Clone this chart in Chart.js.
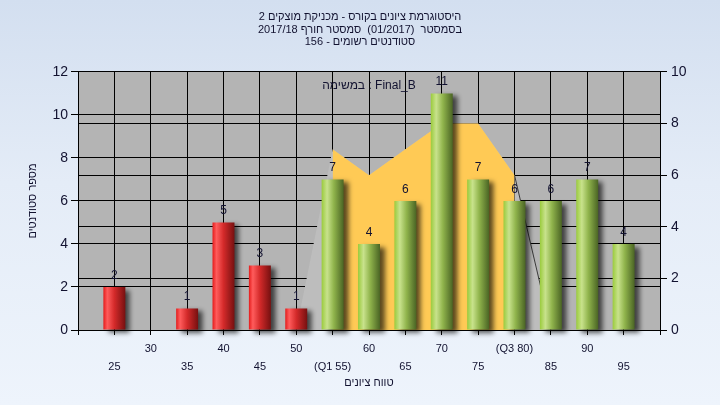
<!DOCTYPE html>
<html lang="he">
<head>
  <meta charset="UTF-8"/>
  <title>היסטוגרמת ציונים</title>
  <style>
    html, body {
      margin: 0;
      padding: 0;
    }
    body {
      width: 720px;
      height: 405px;
      overflow: hidden;
      background: linear-gradient(to bottom, #d3dff0 0%, #e4ecf7 45%, #eef4fc 100%);
    }
    #chart {
      display: block;
    }
  </style>
</head>
<body>

<canvas id="chart" width="720" height="405"></canvas>

<script src="https://cdn.jsdelivr.net/npm/chart.js@4"></script>
<script>
// grade buckets and number of students in each
const grades = [25, 30, 35, 40, 45, 50, 55, 60, 65, 70, 75, 80, 85, 90, 95];
const counts = [2, 0, 1, 5, 3, 1, 7, 4, 6, 11, 7, 6, 6, 7, 4];
const tickLabels = ['25', '30', '35', '40', '45', '50', '(Q1 55)', '60', '65', '70', '75', '(Q3 80)', '85', '90', '95'];
const passGrade = 55;

// distribution outline (right axis)
const outlineGrades = [50, 55, 60, 65, 70, 75, 80, 85];
const outlineValues = [0, 7, 6, 7, 8, 8, 6, 0];
// inter-quartile part (Q1..Q3)
const iqrGrades = [55, 60, 65, 70, 75, 80];
const iqrValues = [7, 6, 7, 8, 8, 6];

const titleLines = [
  'היסטוגרמת ציונים בקורס - מכניקת מוצקים 2',
  'בסמסטר  (01/2017)  סמסטר חורף 2017/18',
  'סטודנטים רשומים - 156'
];
const taskLabel = 'במשימה : Final_B';

const FONT = "'Liberation Sans', Arial, sans-serif";
const INK = '#121230';

function pts(xs, ys) {
  return xs.map((x, i) => ({ x: x, y: ys[i] }));
}

function barFill(ctx) {
  const chart = ctx.chart;
  const xs = chart.scales.x;
  const red = grades[ctx.dataIndex] < passGrade;
  const flat = red ? '#d82020' : '#9cc448';
  if (!xs || ctx.type !== 'data') return flat;
  const px = xs.getPixelForValue(grades[ctx.dataIndex]);
  if (!Number.isFinite(px)) return flat;
  const g = chart.ctx.createLinearGradient(px - 11, 0, px + 11, 0);
  if (red) {
    g.addColorStop(0, '#e41c1c');
    g.addColorStop(0.18, '#ff5c5c');
    g.addColorStop(0.5, '#d42a2a');
    g.addColorStop(1, '#761010');
  } else {
    g.addColorStop(0, '#9acb3c');
    g.addColorStop(0.25, '#c8e28c');
    g.addColorStop(0.55, '#90b44c');
    g.addColorStop(1, '#4a6424');
  }
  return g;
}

const plotBg = {
  id: 'plotBg',
  beforeDraw(chart) {
    const a = chart.chartArea;
    const c = chart.ctx;
    c.save();
    c.fillStyle = '#b4b4b4';
    c.fillRect(a.left, a.top, a.right - a.left, a.bottom - a.top);
    c.restore();
  }
};

// soft drop shadow behind the bars
const barShadow = {
  id: 'barShadow',
  beforeDatasetDraw(chart, args) {
    if (args.meta.type !== 'bar') return;
    const c = chart.ctx;
    c.save();
    c.shadowColor = 'rgba(0,0,0,0.65)';
    c.shadowOffsetX = 5;
    c.shadowOffsetY = 3;
    c.shadowBlur = 5;
  },
  afterDatasetDraw(chart, args) {
    if (args.meta.type !== 'bar') return;
    chart.ctx.restore();
  }
};

// counts above the bars + task caption
const barValues = {
  id: 'barValues',
  afterDatasetsDraw(chart) {
    const c = chart.ctx;
    c.save();
    c.font = '12px ' + FONT;
    c.fillStyle = INK;
    c.textAlign = 'center';
    c.textBaseline = 'alphabetic';
    const meta = chart.getDatasetMeta(0);
    meta.data.forEach((el, i) => {
      if (!counts[i]) return;
      c.fillText(String(counts[i]), el.x, el.y - 8);
    });
    const a = chart.chartArea;
    c.textBaseline = 'middle';
    c.fillText(taskLabel, (a.left + a.right) / 2, a.top + 14);
    c.restore();
  }
};

new Chart(document.getElementById('chart').getContext('2d'), {
  data: {
    datasets: [
      {
        type: 'bar',
        data: pts(grades, counts),
        yAxisID: 'y',
        backgroundColor: barFill,
        borderWidth: 0,
        categoryPercentage: 0.8,
        barPercentage: 0.755,
        clip: false,
        order: 0
      },
      {
        type: 'line',
        data: pts(iqrGrades, iqrValues),
        yAxisID: 'y1',
        fill: 'origin',
        backgroundColor: '#ffca55',
        borderWidth: 0,
        borderColor: 'rgba(0,0,0,0)',
        pointRadius: 0,
        tension: 0,
        order: 1
      },
      {
        type: 'line',
        data: pts(outlineGrades, outlineValues),
        yAxisID: 'y1',
        fill: 'origin',
        backgroundColor: '#bdbdbd',
        borderWidth: 1,
        borderColor: 'rgba(0,0,0,0)',
        segment: {
          borderColor: s => s.p0.parsed.x >= 80 ? '#3a3a3a' : 'rgba(0,0,0,0)'
        },
        pointRadius: 0,
        tension: 0,
        order: 2
      }
    ]
  },
  options: {
    responsive: false,
    animation: false,
    layout: { padding: 0 },
    plugins: {
      legend: { display: false },
      tooltip: { enabled: false },
      title: {
        display: true,
        text: titleLines,
        color: INK,
        font: { family: FONT, size: 11, weight: 'normal', lineHeight: 1.18 },
        padding: { top: 10, bottom: 23 }
      }
    },
    scales: {
      x: {
        type: 'linear',
        min: 20,
        max: 100,
        offset: false,
        afterFit: s => { s.height = 75; },
        ticks: {
          stepSize: 5,
          autoSkip: false,
          maxRotation: 0,
          minRotation: 0,
          padding: 5,
          color: INK,
          font: { family: FONT, size: 11, lineHeight: 1.64 },
          callback: v => {
            const i = grades.indexOf(v);
            if (i < 0) return '';
            return i % 2 === 0 ? ['', tickLabels[i]] : [tickLabels[i], ''];
          }
        },
        grid: { offset: false, color: '#000', lineWidth: 1, tickLength: 5, tickColor: '#000' },
        border: { color: '#000', width: 1 },
        title: {
          display: true,
          text: 'טווח ציונים',
          color: INK,
          font: { family: FONT, size: 11 },
          padding: { top: 0, bottom: 15 }
        }
      },
      y: {
        position: 'left',
        min: 0,
        max: 12,
        afterFit: s => { s.width = 78; },
        ticks: {
          stepSize: 2,
          padding: 3,
          color: INK,
          font: { family: FONT, size: 14 }
        },
        grid: { color: '#000', lineWidth: 1, tickLength: 7, tickColor: '#000' },
        border: { color: '#000', width: 1 },
        title: {
          display: true,
          text: 'מספר סטודנטים',
          color: INK,
          font: { family: FONT, size: 11 },
          padding: { top: 26, bottom: 0 }
        }
      },
      y1: {
        position: 'right',
        min: 0,
        max: 10,
        afterFit: s => { s.width = 60; },
        ticks: {
          stepSize: 2,
          padding: 4,
          color: INK,
          font: { family: FONT, size: 14 }
        },
        grid: { color: '#000', lineWidth: 1, tickLength: 7, tickColor: '#000' },
        border: { color: '#000', width: 1 }
      }
    }
  },
  plugins: [plotBg, barShadow, barValues]
});
</script>

</body>
</html>
